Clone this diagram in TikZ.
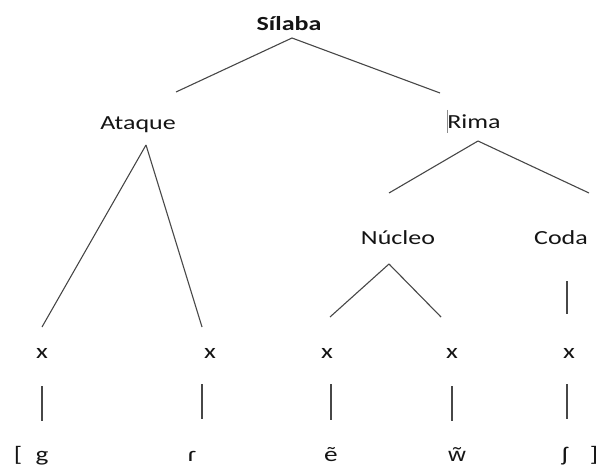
\documentclass[tikz,border=0pt]{standalone}
\usepackage{fontspec}
\setmainfont{Carlito}[FakeStretch=1.3]
\newfontfamily\ipafont{Noto Sans}[FakeStretch=1.2]
\begin{document}
\begin{tikzpicture}[x=1pt,y=-1pt,
  lbl/.style={anchor=base,inner sep=0pt,text=black!92,font=\fontsize{20}{24}\selectfont},
  slot/.style={anchor=base,inner sep=0pt,text=black!92,font=\fontsize{21}{24}\selectfont},
  br/.style={draw=black!72,line width=1.1pt}]
  \useasboundingbox (0,0) rectangle (597,468);
  % constituents
  \node[lbl,font=\fontsize{20}{24}\selectfont\bfseries] (silaba) at (289,30.5) {Sílaba};
  \node[lbl] (ataque) at (138,129.5) {Ataque};
  \node[lbl] (rima) at (474,129) {Rima};
  \node[lbl] (nucleo) at (398,244) {Núcleo};
  \node[lbl] (coda) at (561,244) {Coda};
  % skeleton
  \node[slot] (x1) at (42,358) {x};
  \node[slot] (x2) at (210,358) {x};
  \node[slot] (x3) at (327,358) {x};
  \node[slot] (x4) at (452,358) {x};
  \node[slot] (x5) at (569,358) {x};
  % segments
  \node[slot] (lb) at (18,461) {[};
  \node[slot] (g) at (42,461) {g};
  \node[slot] (r) at (192,461) {ɾ};
  \node[slot] (e) at (331,461) {ẽ};
  \node[slot,font=\fontsize{19}{24}\ipafont] (w) at (457,461) {w̃};
  \node[slot] (sh) at (565,461) {ʃ};
  \node[slot] (rb) at (594,461) {]};
  % branch ends
  \coordinate (silaba-f) at (292,38);
  \coordinate (ataque-h) at (176,92);
  \coordinate (rima-h) at (440,93);
  \coordinate (ataque-f) at (146,145);
  \coordinate (x1-h) at (42,327);
  \coordinate (x2-h) at (202,327);
  \coordinate (rima-f) at (478,141);
  \coordinate (nucleo-h) at (389,193);
  \coordinate (coda-h) at (589,193);
  \coordinate (nucleo-f) at (389,264);
  \coordinate (x3-h) at (330,317);
  \coordinate (x4-h) at (441,317);
  \coordinate (coda-f) at (567,281);
  \coordinate (x5-h) at (567,314);
  \draw[br] (silaba-f) -- (ataque-h);
  \draw[br] (silaba-f) -- (rima-h);
  \draw[br] (ataque-f) -- (x1-h);
  \draw[br] (ataque-f) -- (x2-h);
  \draw[br] (rima-f) -- (nucleo-h);
  \draw[br] (rima-f) -- (coda-h);
  \draw[br] (nucleo-f) -- (x3-h);
  \draw[br] (nucleo-f) -- (x4-h);
  \draw[br] (coda-f) -- (x5-h);
  % association lines, skeleton to segment
  \coordinate (x1-f) at (42,386);  \coordinate (g-h) at (42,421);
  \coordinate (x2-f) at (202,384); \coordinate (r-h) at (202,419);
  \coordinate (x3-f) at (331,384); \coordinate (e-h) at (331,420);
  \coordinate (x4-f) at (452,386); \coordinate (w-h) at (452,421);
  \coordinate (x5-f) at (567,384); \coordinate (sh-h) at (567,419);
  \draw[br] (x1-f) -- (g-h);
  \draw[br] (x2-f) -- (r-h);
  \draw[br] (x3-f) -- (e-h);
  \draw[br] (x4-f) -- (w-h);
  \draw[br] (x5-f) -- (sh-h);
  % caret mark in front of Rima
  \draw[black!45,line width=0.7pt] (447,110) -- (447,133);
\end{tikzpicture}
\end{document}
